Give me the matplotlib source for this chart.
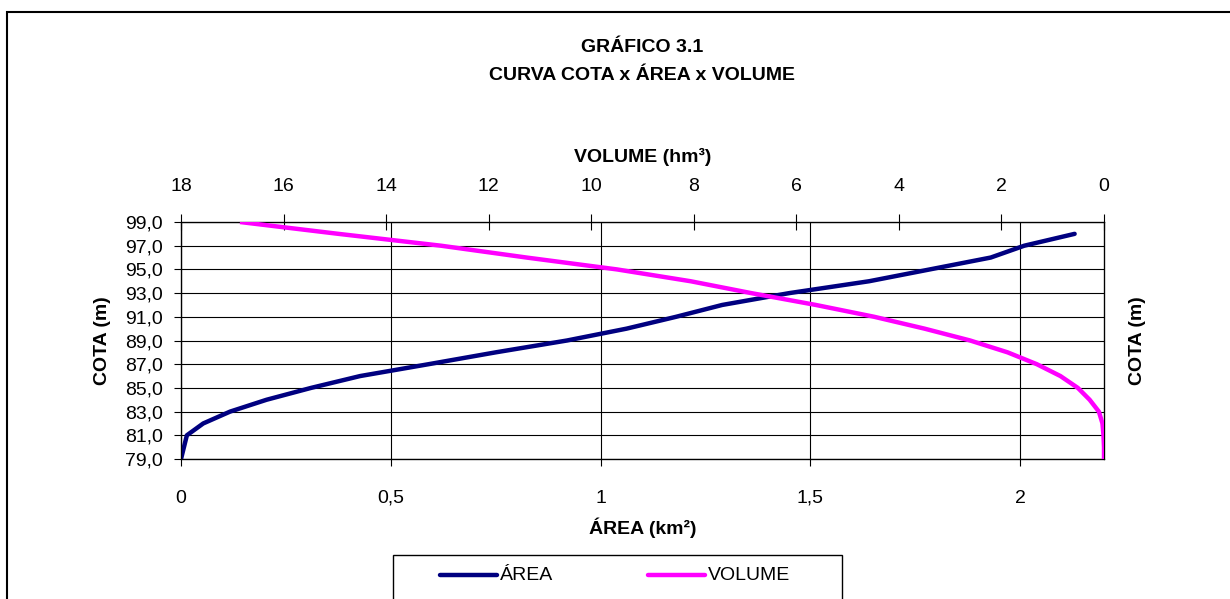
import matplotlib
matplotlib.use("Agg")
import matplotlib.pyplot as plt
from matplotlib.lines import Line2D
from matplotlib.patches import Rectangle
from matplotlib.ticker import FuncFormatter, MultipleLocator

plt.rcParams["font.family"] = ["Liberation Sans", "DejaVu Sans"]

# --- data ------------------------------------------------------------------
cota_area = [79, 81, 82, 83, 84, 85, 86, 87, 88, 89, 90, 91, 92, 93, 94, 95, 96, 97, 98]
area_km2 = [0.0, 0.014, 0.053, 0.117, 0.204, 0.31, 0.427, 0.59, 0.75, 0.92,
            1.062, 1.18, 1.29, 1.45, 1.64, 1.785, 1.93, 2.01, 2.13]

cota_vol = [79, 80, 81, 82, 83, 84, 85, 86, 87, 88, 89, 90, 91, 92, 93, 94, 95, 96, 97, 98, 99]
volume_hm3 = [0.0, 0.0, 0.01, 0.03, 0.1, 0.28, 0.51, 0.85, 1.31, 1.88, 2.61, 3.5,
              4.48, 5.62, 6.88, 8.06, 9.5, 11.26, 12.93, 14.93, 16.85]

cota_ticks = [79, 81, 83, 85, 87, 89, 91, 93, 95, 97, 99]

AREA_COLOR = "#000080"
VOL_COLOR = "#FF00FF"

W, H = 1230, 599


def fx(px):
    return px / W


def fy(py):
    return 1 - py / H


def comma(v, _pos=None, fmt="{:g}"):
    return fmt.format(v).replace(".", ",")


fig = plt.figure(figsize=(W / 100, H / 100), dpi=100)
fig.patch.set_facecolor("white")

# outer chart border (only top/left visible in the reference)
fig.patches.append(Rectangle((fx(7), fy(640)), 1.2, fy(12) - fy(640),
                             transform=fig.transFigure, fill=False,
                             edgecolor="black", linewidth=1.5))

left, right, top, bottom = 181, 1104, 222, 459
ax = fig.add_axes([fx(left), fy(bottom), fx(right) - fx(left), fy(top) - fy(bottom)])

ax.plot(area_km2, cota_area, color=AREA_COLOR, linewidth=3.2,
        solid_joinstyle="round", solid_capstyle="round", zorder=3)
ax.set_xlim(0, 2.2)
ax.set_ylim(cota_ticks[0], cota_ticks[-1])
ax.set_yticks(cota_ticks)
ax.xaxis.set_major_locator(MultipleLocator(0.5))
ax.xaxis.set_major_formatter(FuncFormatter(comma))
ax.yaxis.set_major_formatter(FuncFormatter(lambda v, p: comma(v, p, "{:.1f}")))
ax.grid(True, color="black", linewidth=0.8)
ax.set_axisbelow(True)
ax.tick_params(axis="y", direction="out", length=5, width=0.8, pad=8, labelsize=14)
ax.tick_params(axis="x", direction="out", length=5, width=0.8, pad=17, labelsize=14)
for s in ax.spines.values():
    s.set_linewidth(0.9)

ax.set_xlabel("ÁREA (km²)", fontsize=14, fontweight="bold", va="center")
ax.xaxis.set_label_coords(0.5, (bottom - 528) / (bottom - top))
ax.set_ylabel("COTA (m)", fontsize=14, fontweight="bold", va="center")
ax.yaxis.set_label_coords((103 - left) / (right - left), 0.5)
ax.text((1137 - left) / (right - left), 0.5, "COTA (m)", transform=ax.transAxes,
        rotation=90, ha="center", va="center", fontsize=14, fontweight="bold")

# secondary (top) axis for volume, reversed
axv = ax.twiny()
axv.plot(volume_hm3, cota_vol, color=VOL_COLOR, linewidth=3.2,
         solid_joinstyle="round", solid_capstyle="butt", zorder=3)
axv.set_xlim(18, 0)
axv.xaxis.set_major_locator(MultipleLocator(2))
axv.tick_params(axis="x", direction="inout", length=11, width=0.8, pad=14, labelsize=14)
axv.set_xlabel("VOLUME (hm³)", fontsize=14, fontweight="bold", va="center")
axv.xaxis.set_label_coords(0.5, (bottom - 157) / (bottom - top))

# title
fig.text(fx(642), fy(47), "GRÁFICO 3.1", ha="center", va="center",
         fontsize=14, fontweight="bold")
fig.text(fx(642), fy(76), "CURVA COTA x ÁREA x VOLUME", ha="center", va="center",
         fontsize=14, fontweight="bold")

# legend box, drawn by hand to match the spreadsheet layout
fig.patches.append(Rectangle((fx(393), fy(640)), fx(842) - fx(393), fy(555) - fy(640),
                             transform=fig.transFigure, fill=False,
                             edgecolor="black", linewidth=1.0))
for (x0, x1, label, color) in [(440, 497, "ÁREA", AREA_COLOR),
                               (648, 705, "VOLUME", VOL_COLOR)]:
    fig.add_artist(Line2D([fx(x0), fx(x1)], [fy(575), fy(575)], transform=fig.transFigure,
                          color=color, linewidth=3.2, solid_capstyle="round"))
    fig.text(fx(x1 + 3), fy(575), label, ha="left", va="center", fontsize=14)

fig.savefig("out.png", dpi=100)
